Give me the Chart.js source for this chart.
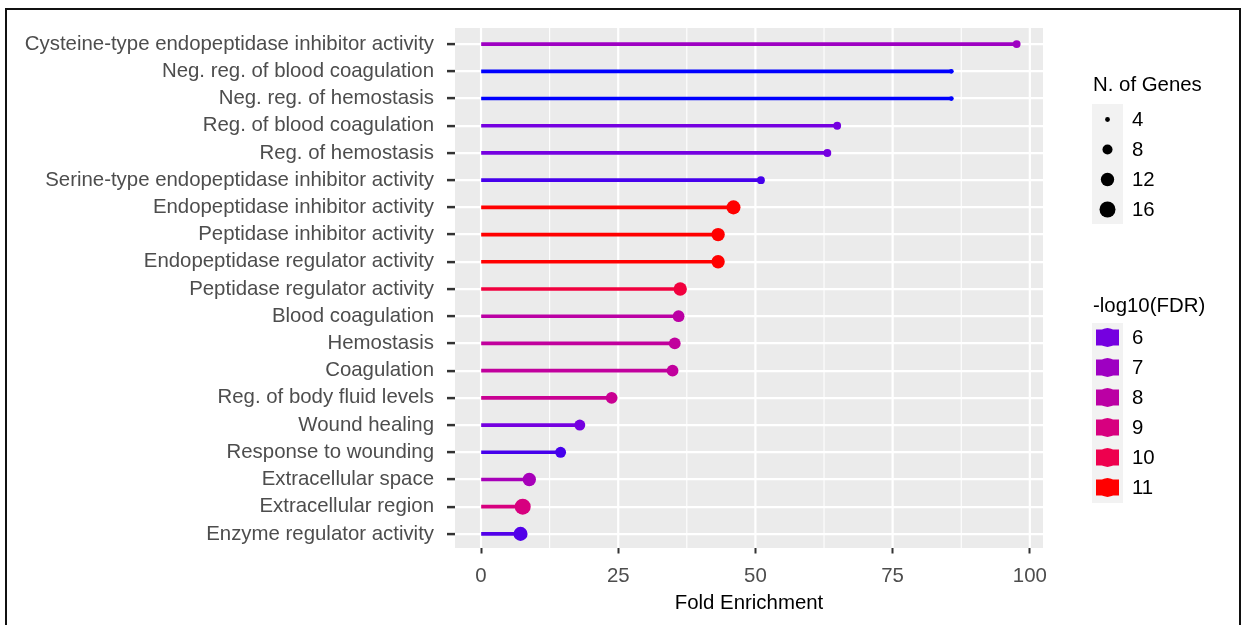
<!DOCTYPE html>
<html>
<head>
<meta charset="utf-8">
<script src="https://cdn.jsdelivr.net/npm/chart.js@4"></script>
<style>
  html, body { margin: 0; padding: 0; background: #ffffff; }
  canvas { display: block; }
</style>
</head>
<body>
<canvas id="chart" width="1248" height="625"></canvas>
<script>
// GO terms, top to bottom
const terms = [
  "Cysteine-type endopeptidase inhibitor activity",
  "Neg. reg. of blood coagulation",
  "Neg. reg. of hemostasis",
  "Reg. of blood coagulation",
  "Reg. of hemostasis",
  "Serine-type endopeptidase inhibitor activity",
  "Endopeptidase inhibitor activity",
  "Peptidase inhibitor activity",
  "Endopeptidase regulator activity",
  "Peptidase regulator activity",
  "Blood coagulation",
  "Hemostasis",
  "Coagulation",
  "Reg. of body fluid levels",
  "Wound healing",
  "Response to wounding",
  "Extracellular space",
  "Extracellular region",
  "Enzyme regulator activity"
];
const foldEnrichment = [97.6, 85.7, 85.7, 64.9, 63.1, 51.0, 46.0, 43.2, 43.2, 36.3, 36.0, 35.3, 34.9, 23.8, 18.0, 14.5, 8.8, 7.6, 7.2];
const geneCounts     = [6, 4, 4, 6, 6, 6, 13, 12, 12, 12, 10, 10, 10, 10, 9, 9, 12, 16, 13];
const negLog10FDR    = [7.0, 5.0, 5.0, 6.0, 6.0, 5.6, 11.2, 11.2, 11.2, 10.2, 8.0, 8.2, 8.2, 8.5, 6.0, 5.6, 7.3, 9.0, 5.7];

const xTickValues = [0, 25, 50, 75, 100];
const sizeLegendValues = [4, 8, 12, 16];
const colorLegendValues = [6, 7, 8, 9, 10, 11];

const FONT = '"Liberation Sans", Arial, Helvetica, sans-serif';
const TEXT_SIZE = 20.4;
Chart.defaults.font.family = FONT;

// blue -> red gradient for -log10(FDR)
const colorStops = [
  [5, [0, 0, 255]],
  [6, [117, 0, 224]],
  [7, [158, 0, 194]],
  [8, [187, 0, 164]],
  [9, [215, 0, 127]],
  [10, [238, 0, 78]],
  [11, [255, 0, 0]]
];
function fdrColor(v) {
  if (v <= colorStops[0][0]) return rgb(colorStops[0][1]);
  for (let i = 1; i < colorStops.length; i++) {
    const [v1, c1] = colorStops[i];
    const [v0, c0] = colorStops[i - 1];
    if (v <= v1) {
      const t = (v - v0) / (v1 - v0);
      return rgb(c0.map((c, k) => c + (c1[k] - c) * t));
    }
  }
  return rgb(colorStops[colorStops.length - 1][1]);
}
function rgb(a) { return 'rgb(' + a.map(x => Math.round(x)).join(',') + ')'; }

// point radius grows with gene count (area-proportional)
function geneRadius(n) { return Math.sqrt(5.76 + 4.85 * (n - 4)); }

const colors = negLog10FDR.map(fdrColor);
const radii = geneCounts.map(geneRadius);

const PANEL_TOP = 28, PANEL_BOTTOM = 548;

// grey panel with vertical grid lines, drawn underneath everything else
const panelPlugin = {
  id: 'panel',
  beforeDraw(chart) {
    const { ctx, chartArea, scales } = chart;
    ctx.save();
    ctx.fillStyle = '#ffffff';
    ctx.fillRect(0, 0, chart.width, chart.height);
    ctx.fillStyle = '#EBEBEB';
    ctx.fillRect(chartArea.left, PANEL_TOP, chartArea.right - chartArea.left, PANEL_BOTTOM - PANEL_TOP);
    ctx.strokeStyle = '#ffffff';
    for (let v = 0; v <= 100; v += 12.5) {
      const x = scales.x.getPixelForValue(v);
      ctx.lineWidth = (v % 25 === 0) ? 2.2 : 1.1;
      ctx.beginPath();
      ctx.moveTo(x, PANEL_TOP);
      ctx.lineTo(x, PANEL_BOTTOM);
      ctx.stroke();
    }
    ctx.restore();
  },
  afterDraw(chart) {
    const { ctx } = chart;
    ctx.save();
    ctx.strokeStyle = '#111111';
    ctx.lineWidth = 2;
    ctx.beginPath();
    ctx.moveTo(6, 640);
    ctx.lineTo(6, 9);
    ctx.lineTo(1240, 9);
    ctx.lineTo(1240, 640);
    ctx.stroke();
    ctx.restore();
  }
};

// size and colour guides on the right
const guidePlugin = {
  id: 'guides',
  afterDraw(chart) {
    const { ctx } = chart;
    ctx.save();
    ctx.font = TEXT_SIZE + 'px ' + FONT;
    ctx.textBaseline = 'middle';
    ctx.textAlign = 'left';

    // N. of Genes
    ctx.fillStyle = '#000000';
    ctx.fillText('N. of Genes', 1093, 85);
    ctx.fillStyle = '#F2F2F2';
    ctx.fillRect(1092, 104, 31, 120);
    sizeLegendValues.forEach((n, i) => {
      const cy = 119.5 + i * 30;
      ctx.fillStyle = '#000000';
      ctx.beginPath();
      ctx.arc(1107.5, cy, geneRadius(n), 0, Math.PI * 2);
      ctx.fill();
      ctx.fillText(String(n), 1132, cy + 1);
    });

    // -log10(FDR)
    ctx.fillStyle = '#000000';
    ctx.fillText('-log10(FDR)', 1093, 306);
    ctx.fillStyle = '#F2F2F2';
    ctx.fillRect(1092, 323, 31, 180);
    colorLegendValues.forEach((v, i) => {
      const cy = 337.5 + i * 30;
      const col = fdrColor(v);
      ctx.fillStyle = col;
      ctx.fillRect(1096, cy - 8, 23, 16);
      ctx.beginPath();
      ctx.arc(1107.5, cy, 9.5, 0, Math.PI * 2);
      ctx.fill();
      ctx.fillStyle = '#000000';
      ctx.fillText(String(v), 1132, cy + 1);
    });
    ctx.restore();
  }
};

const ctx = document.getElementById('chart').getContext('2d');
new Chart(ctx, {
  type: 'bar',
  data: {
    labels: terms,
    datasets: [
      {
        type: 'line',
        label: 'points',
        data: foldEnrichment,
        showLine: false,
        pointRadius: radii,
        pointHoverRadius: radii,
        pointBackgroundColor: colors,
        pointBorderColor: colors,
        pointBorderWidth: 0,
        order: 0
      },
      {
        type: 'bar',
        label: 'stems',
        data: foldEnrichment,
        backgroundColor: colors,
        borderWidth: 0,
        barThickness: 3,
        order: 1
      }
    ]
  },
  options: {
    indexAxis: 'y',
    responsive: false,
    animation: false,
    layout: { autoPadding: false, padding: { left: 0, right: 205, top: 30.5, bottom: 0 } },
    plugins: {
      legend: { display: false },
      tooltip: { enabled: false }
    },
    scales: {
      x: {
        type: 'linear',
        min: -4.74,
        max: 102.4,
        afterBuildTicks(scale) {
          const vals = [];
          for (let v = 0; v <= 100; v += 12.5) vals.push(v);
          scale.ticks = vals.map(v => ({ value: v }));
        },
        afterFit(scale) { scale.height = 625 - 547.5; },
        ticks: {
          autoSkip: false,
          maxRotation: 0,
          color: '#4D4D4D',
          font: { size: TEXT_SIZE },
          padding: 11,
          callback: v => xTickValues.includes(v) ? String(v) : ''
        },
        grid: {
          drawOnChartArea: false,
          drawTicks: true,
          tickLength: 6,
          tickWidth: 2,
          tickColor: c => (c.tick && xTickValues.includes(c.tick.value)) ? '#333333' : 'rgba(0,0,0,0)'
        },
        border: { display: false },
        title: {
          display: true,
          text: 'Fold Enrichment',
          color: '#000000',
          font: { size: TEXT_SIZE },
          padding: { top: 0, bottom: 9 }
        }
      },
      y: {
        type: 'category',
        offset: true,
        afterFit(scale) { scale.width = 455; },
        ticks: {
          autoSkip: false,
          color: '#4D4D4D',
          font: { size: TEXT_SIZE },
          padding: 13
        },
        grid: {
          offset: false,
          color: '#ffffff',
          lineWidth: 2.2,
          drawTicks: true,
          tickLength: 8,
          tickWidth: 2.5,
          tickColor: '#333333'
        },
        border: { display: false }
      }
    }
  },
  plugins: [panelPlugin, guidePlugin]
});
</script>
</body>
</html>
